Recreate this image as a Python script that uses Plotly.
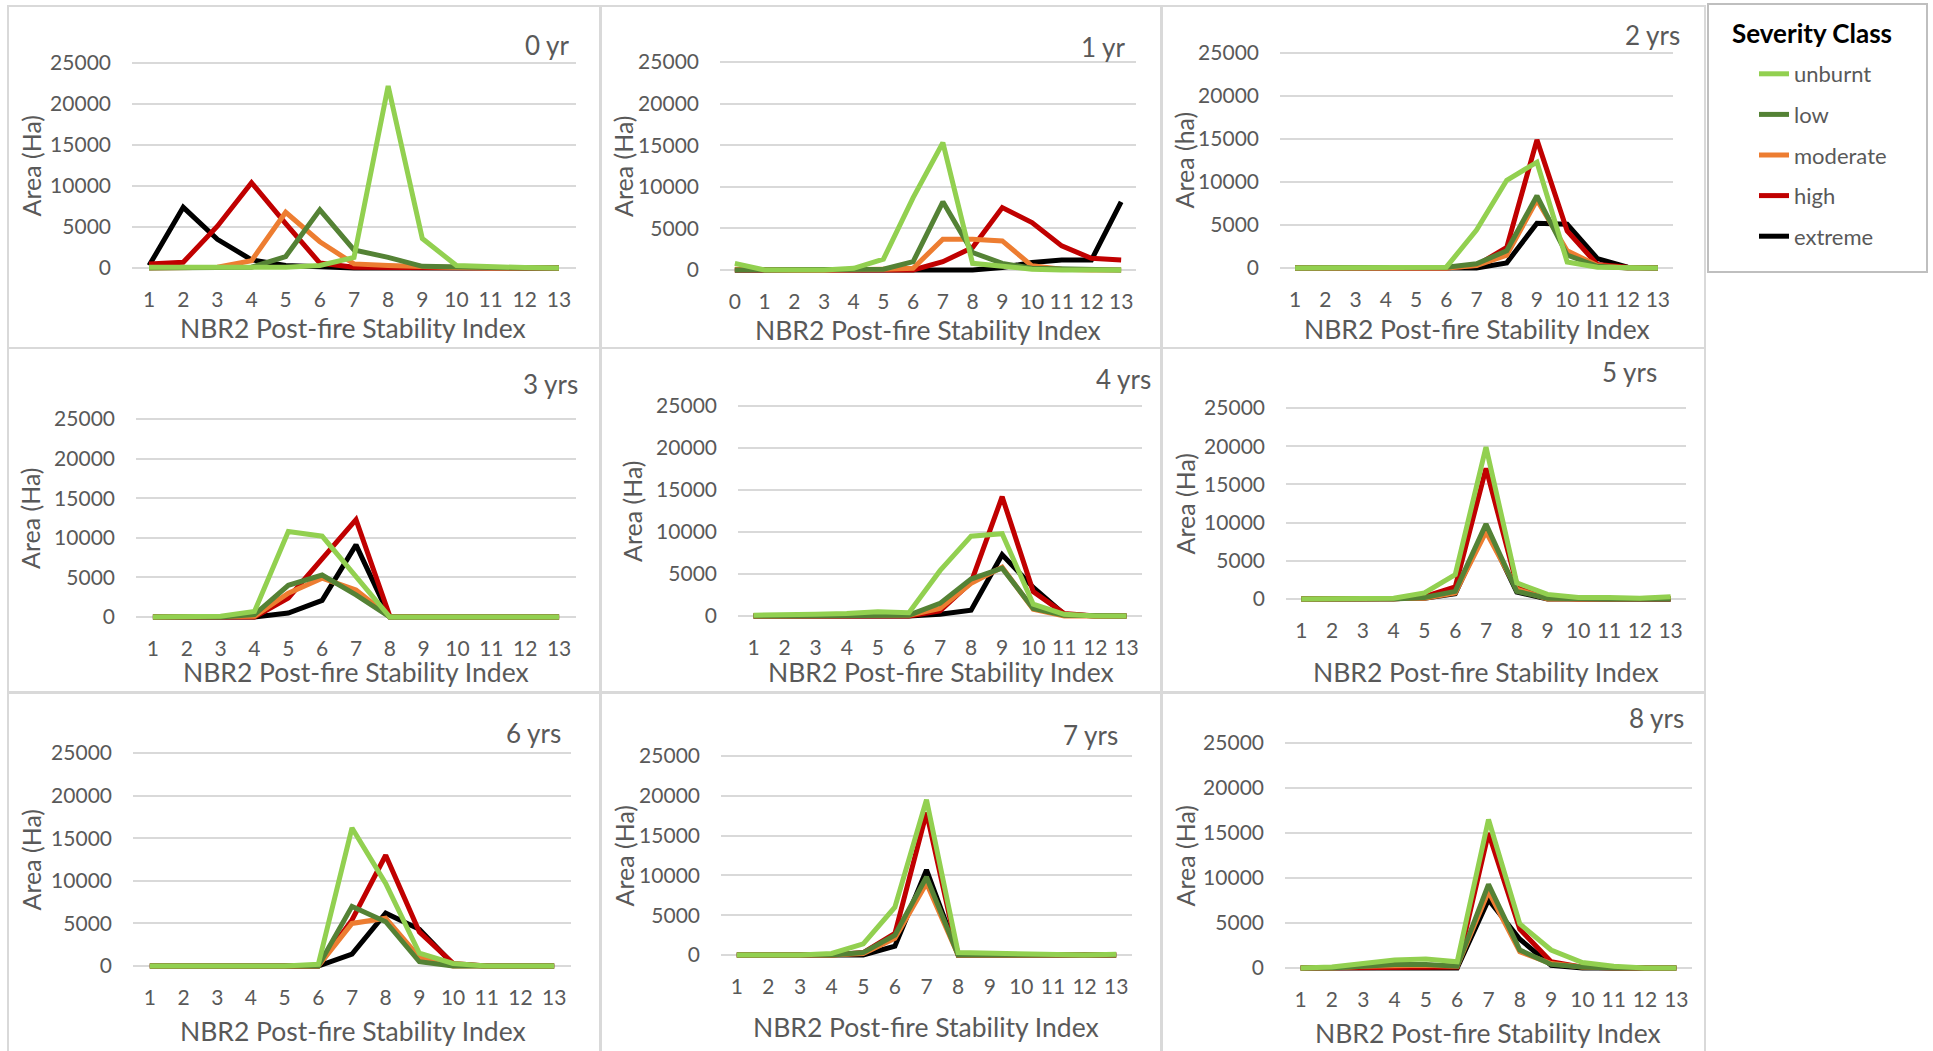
import plotly.graph_objects as go

# ---------------------------------------------------------------------------
# Area (ha) per NBR2 post-fire stability index class, by burn severity class
# ---------------------------------------------------------------------------
CLASSES = ["unburnt", "low", "moderate", "high", "extreme"]
COLORS = {
    "unburnt": "#92D050",
    "low": "#548235",
    "moderate": "#ED7D31",
    "high": "#C00000",
    "extreme": "#000000",
}
# painting order (last one ends up on top)
DRAW_ORDER = ["extreme", "high", "moderate", "low", "unburnt"]

index_1_13 = list(range(1, 14))
index_0_13 = list(range(0, 14))
y_ticks = [0, 5000, 10000, 15000, 20000, 25000]

panel_titles = ["0 yr", "1 yr", "2 yrs", "3 yrs", "4 yrs", "5 yrs", "6 yrs", "7 yrs", "8 yrs"]
y_titles = ["Area (Ha)", "Area (Ha)", "Area (ha)", "Area (Ha)", "Area (Ha)",
            "Area (Ha)", "Area (Ha)", "Area (Ha)", "Area (Ha)"]
x_title = "NBR2 Post-fire Stability Index"

# 0 yr
yr0_unburnt = [100, 100, 100, 100, 100, 300, 1300, 22200, 3600, 300, 100, 50, 0]
yr0_low = [0, 0, 0, 100, 1400, 7100, 2200, 1300, 200, 200, 50, 0, 0]
yr0_moderate = [0, 0, 100, 900, 6800, 3200, 500, 300, 100, 50, 0, 0, 0]
yr0_high = [500, 700, 5100, 10400, 5400, 600, 100, 50, 0, 0, 0, 0, 0]
yr0_extreme = [300, 7400, 3500, 1000, 300, 100, 0, 0, 0, 0, 0, 0, 0]

# 1 yr (index starts at 0)
yr1_unburnt = [800, 0, 0, 0, 200, 1300, 8700, 15300, 800, 400, 100, 0, 0, 0]
yr1_low = [0, 0, 0, 0, 0, 100, 1000, 8200, 2100, 800, 200, 100, 0, 0]
yr1_moderate = [100, 0, 0, 0, 0, 100, 200, 3700, 3700, 3500, 500, 100, 0, 0]
yr1_high = [0, 0, 0, 0, 0, 0, 0, 1000, 2700, 7500, 5700, 2900, 1400, 1200]
yr1_extreme = [0, 0, 0, 0, 0, 0, 0, 0, 0, 300, 900, 1200, 1200, 8200]

# 2 yrs
yr2_unburnt = [0, 0, 0, 0, 0, 100, 4400, 10200, 12300, 700, 100, 0, 0]
yr2_low = [0, 0, 0, 0, 0, 100, 500, 2000, 8400, 1500, 200, 0, 0]
yr2_moderate = [0, 0, 0, 0, 0, 0, 300, 1500, 7900, 2000, 300, 0, 0]
yr2_high = [0, 0, 0, 0, 0, 0, 300, 2400, 14900, 4300, 400, 100, 0]
yr2_extreme = [0, 0, 0, 0, 0, 0, 0, 600, 5200, 5100, 1100, 100, 0]

# 3 yrs
yr3_unburnt = [0, 0, 100, 700, 10800, 10200, 5000, 0, 0, 0, 0, 0, 0]
yr3_low = [0, 0, 0, 300, 4000, 5300, 2800, 0, 0, 0, 0, 0, 0]
yr3_moderate = [0, 0, 0, 100, 3000, 4900, 3400, 0, 0, 0, 0, 0, 0]
yr3_high = [0, 0, 0, 0, 2400, 7400, 12300, 100, 0, 0, 0, 0, 0]
yr3_extreme = [0, 0, 0, 0, 500, 2100, 9100, 0, 0, 0, 0, 0, 0]

# 4 yrs
yr4_unburnt = [100, 100, 200, 300, 500, 400, 5400, 9500, 9800, 1400, 200, 0, 0]
yr4_low = [0, 0, 0, 0, 100, 100, 1500, 4400, 5700, 900, 100, 0, 0]
yr4_moderate = [0, 0, 0, 0, 0, 100, 900, 3900, 5800, 800, 0, 0, 0]
yr4_high = [0, 0, 0, 0, 0, 0, 600, 4000, 14200, 2900, 300, 0, 0]
yr4_extreme = [0, 0, 0, 0, 0, 0, 200, 700, 7300, 3400, 200, 0, 0]

# 5 yrs
yr5_unburnt = [0, 0, 0, 100, 800, 3200, 19900, 2100, 600, 200, 200, 100, 300]
yr5_low = [0, 0, 0, 0, 200, 1000, 9800, 1000, 100, 0, 0, 0, 0]
yr5_moderate = [0, 0, 0, 0, 100, 800, 8800, 1300, 0, 0, 0, 0, 100]
yr5_high = [0, 0, 0, 0, 300, 1600, 17100, 1900, 200, 0, 0, 0, 0]
yr5_extreme = [0, 0, 0, 0, 100, 700, 9300, 900, 0, 0, 0, 0, 0]

# 6 yrs
yr6_unburnt = [0, 0, 0, 0, 0, 200, 16200, 9700, 1500, 300, 0, 0, 0]
yr6_low = [0, 0, 0, 0, 0, 0, 7000, 5200, 500, 0, 0, 0, 0]
yr6_moderate = [0, 0, 0, 0, 0, 0, 5000, 5600, 1000, 0, 0, 0, 0]
yr6_high = [0, 0, 0, 0, 0, 0, 5400, 13000, 4000, 300, 0, 0, 0]
yr6_extreme = [0, 0, 0, 0, 0, 0, 1400, 6200, 4300, 200, 0, 0, 0]

# 7 yrs
yr7_unburnt = [0, 0, 0, 200, 1400, 6000, 19500, 300, 200, 100, 0, 0, 100]
yr7_low = [0, 0, 0, 0, 300, 2500, 9800, 0, 0, 0, 0, 0, 0]
yr7_moderate = [0, 0, 0, 0, 200, 2100, 9000, 0, 0, 0, 0, 0, 0]
yr7_high = [0, 0, 0, 0, 300, 2700, 17900, 0, 0, 0, 0, 0, 0]
yr7_extreme = [0, 0, 0, 0, 0, 1100, 10700, 0, 0, 0, 0, 0, 0]

# 8 yrs
yr8_unburnt = [0, 100, 500, 900, 1000, 700, 16500, 4900, 2000, 600, 200, 0, 0]
yr8_low = [0, 0, 200, 400, 400, 200, 9300, 2000, 400, 100, 0, 0, 0]
yr8_moderate = [0, 0, 200, 300, 300, 200, 8500, 1800, 500, 100, 0, 0, 0]
yr8_high = [0, 0, 0, 100, 100, 100, 15000, 4300, 700, 100, 0, 0, 0]
yr8_extreme = [0, 0, 0, 0, 0, 0, 7600, 3200, 300, 0, 0, 0, 0]

panels = [
    (index_1_13, {"unburnt": yr0_unburnt, "low": yr0_low, "moderate": yr0_moderate, "high": yr0_high, "extreme": yr0_extreme}),
    (index_0_13, {"unburnt": yr1_unburnt, "low": yr1_low, "moderate": yr1_moderate, "high": yr1_high, "extreme": yr1_extreme}),
    (index_1_13, {"unburnt": yr2_unburnt, "low": yr2_low, "moderate": yr2_moderate, "high": yr2_high, "extreme": yr2_extreme}),
    (index_1_13, {"unburnt": yr3_unburnt, "low": yr3_low, "moderate": yr3_moderate, "high": yr3_high, "extreme": yr3_extreme}),
    (index_1_13, {"unburnt": yr4_unburnt, "low": yr4_low, "moderate": yr4_moderate, "high": yr4_high, "extreme": yr4_extreme}),
    (index_1_13, {"unburnt": yr5_unburnt, "low": yr5_low, "moderate": yr5_moderate, "high": yr5_high, "extreme": yr5_extreme}),
    (index_1_13, {"unburnt": yr6_unburnt, "low": yr6_low, "moderate": yr6_moderate, "high": yr6_high, "extreme": yr6_extreme}),
    (index_1_13, {"unburnt": yr7_unburnt, "low": yr7_low, "moderate": yr7_moderate, "high": yr7_high, "extreme": yr7_extreme}),
    (index_1_13, {"unburnt": yr8_unburnt, "low": yr8_low, "moderate": yr8_moderate, "high": yr8_high, "extreme": yr8_extreme}),
]

# ---------------------------------------------------------------------------
# Page geometry (pixels)
# ---------------------------------------------------------------------------
W, H = 1933, 1051
FONT = "Lato, 'Open Sans', sans-serif"
GREY_TEXT = "#595959"
GRID = "#D9D9D9"
Y_LO, Y_HI = -600, 25300

# plot area per panel: left, right, y of the 25000 line, y of the 0 line
plot_boxes = [
    (132, 576, 63, 268), (720, 1136, 62, 270), (1280, 1673, 53, 268),
    (136, 576, 419, 617), (738, 1142, 406, 616), (1286, 1686, 408, 599),
    (133, 571, 753, 966), (721, 1132, 756, 955), (1285, 1692, 743, 968),
]
# panel frames: x0, x1, y0, y1
frames = [
    (8, 600, 6, 348), (601, 1161, 6, 348), (1162, 1705, 6, 348),
    (8, 600, 348, 692), (601, 1161, 348, 692), (1162, 1705, 348, 692),
    (8, 600, 693, 1070), (601, 1161, 693, 1070), (1162, 1705, 693, 1070),
]
# panel title anchor (right edge, middle)
title_pos = [(571, 45), (1127, 47), (1682, 35), (580, 384), (1153, 379),
             (1659, 372), (563, 733), (1120, 735), (1686, 718)]
# x-axis title centre
xt_pos = [(353, 328), (928, 330), (1477, 329), (356, 672), (941, 672),
          (1486, 672), (353, 1031), (926, 1027), (1488, 1033)]
# y-axis title centre x
yt_x = [30, 623, 1183, 30, 632, 1184, 30, 623, 1184]


def px_x(v):
    return v / W


def px_y(v):
    return 1 - v / H


fig = go.Figure()
layout_axes = {}
annotations = []
shapes = []

for i, (xs, series) in enumerate(panels):
    n = "" if i == 0 else str(i + 1)
    xl, xr, y25, y0 = plot_boxes[i]
    k = (y0 - y25) / 25000.0
    dom_bottom = y0 - Y_LO * k
    dom_top = y25 - (Y_HI - 25000) * k

    for cls in DRAW_ORDER:
        fig.add_trace(go.Scatter(
            x=xs, y=series[cls], mode="lines", name=cls,
            line=dict(color=COLORS[cls], width=5),
            xaxis="x" + n, yaxis="y" + n,
            legendgroup=cls, legendrank=CLASSES.index(cls) + 1,
            showlegend=(i == 0),
            hovertemplate="%{x}: %{y}<extra>" + cls + "</extra>",
        ))

    layout_axes["xaxis" + n] = dict(
        domain=[px_x(xl), px_x(xr)], anchor="y" + n,
        range=[xs[0] - 0.5, xs[-1] + 0.5],
        tickmode="array", tickvals=xs, ticktext=[str(v) for v in xs],
        showgrid=False, zeroline=False, showline=False, ticks="",
        ticklabelstandoff=12, automargin=False,
        tickfont=dict(family=FONT, size=21, color=GREY_TEXT),
        fixedrange=True,
    )
    layout_axes["yaxis" + n] = dict(
        domain=[px_y(dom_bottom), px_y(dom_top)], anchor="x" + n,
        range=[Y_LO, Y_HI],
        tickmode="array", tickvals=y_ticks, tickformat="d",
        showgrid=True, gridcolor=GRID, gridwidth=1.6,
        zeroline=False, showline=False, ticks="",
        ticklabelstandoff=20, automargin=False,
        tickfont=dict(family=FONT, size=21, color=GREY_TEXT),
        fixedrange=True,
    )

    tx, ty = title_pos[i]
    annotations.append(dict(
        text=panel_titles[i], x=px_x(tx), y=px_y(ty), xref="paper", yref="paper",
        xanchor="right", yanchor="middle", showarrow=False,
        font=dict(family=FONT, size=26, color=GREY_TEXT),
    ))
    cx, cy = xt_pos[i]
    annotations.append(dict(
        text=x_title, x=px_x(cx), y=px_y(cy), xref="paper", yref="paper",
        xanchor="center", yanchor="middle", showarrow=False,
        font=dict(family=FONT, size=26.5, color=GREY_TEXT),
    ))
    annotations.append(dict(
        text=y_titles[i], x=px_x(yt_x[i]), y=px_y((y0 + y25) / 2), xref="paper", yref="paper",
        xanchor="center", yanchor="middle", showarrow=False, textangle=-90,
        font=dict(family=FONT, size=25, color=GREY_TEXT),
    ))

    fx0, fx1, fy0, fy1 = frames[i]
    shapes.append(dict(
        type="rect", xref="paper", yref="paper",
        x0=px_x(fx0), x1=px_x(fx1), y0=px_y(fy1), y1=px_y(fy0),
        line=dict(color=GRID, width=2), fillcolor="rgba(0,0,0,0)", layer="below",
    ))

# legend frame and heading
shapes.append(dict(
    type="rect", xref="paper", yref="paper",
    x0=px_x(1708), x1=px_x(1927), y0=px_y(272), y1=px_y(4),
    line=dict(color="#BFBFBF", width=2), fillcolor="white", layer="below",
))
annotations.append(dict(
    text="<b>Severity Class</b>", x=px_x(1812), y=px_y(33), xref="paper", yref="paper",
    xanchor="center", yanchor="middle", showarrow=False,
    font=dict(family=FONT, size=26, color="#000000"),
))

fig.update_layout(
    width=W, height=H,
    margin=dict(l=0, r=0, t=0, b=0, pad=0, autoexpand=False),
    paper_bgcolor="white", plot_bgcolor="white",
    showlegend=True,
    legend=dict(
        x=px_x(1754), y=px_y(53), xanchor="left", yanchor="top",
        bgcolor="rgba(0,0,0,0)", borderwidth=0,
        font=dict(family=FONT, size=22, color=GREY_TEXT),
        tracegroupgap=9, itemclick=False, itemdoubleclick=False,
    ),
    annotations=annotations,
    shapes=shapes,
    **layout_axes,
)

fig.write_html("out.html")
